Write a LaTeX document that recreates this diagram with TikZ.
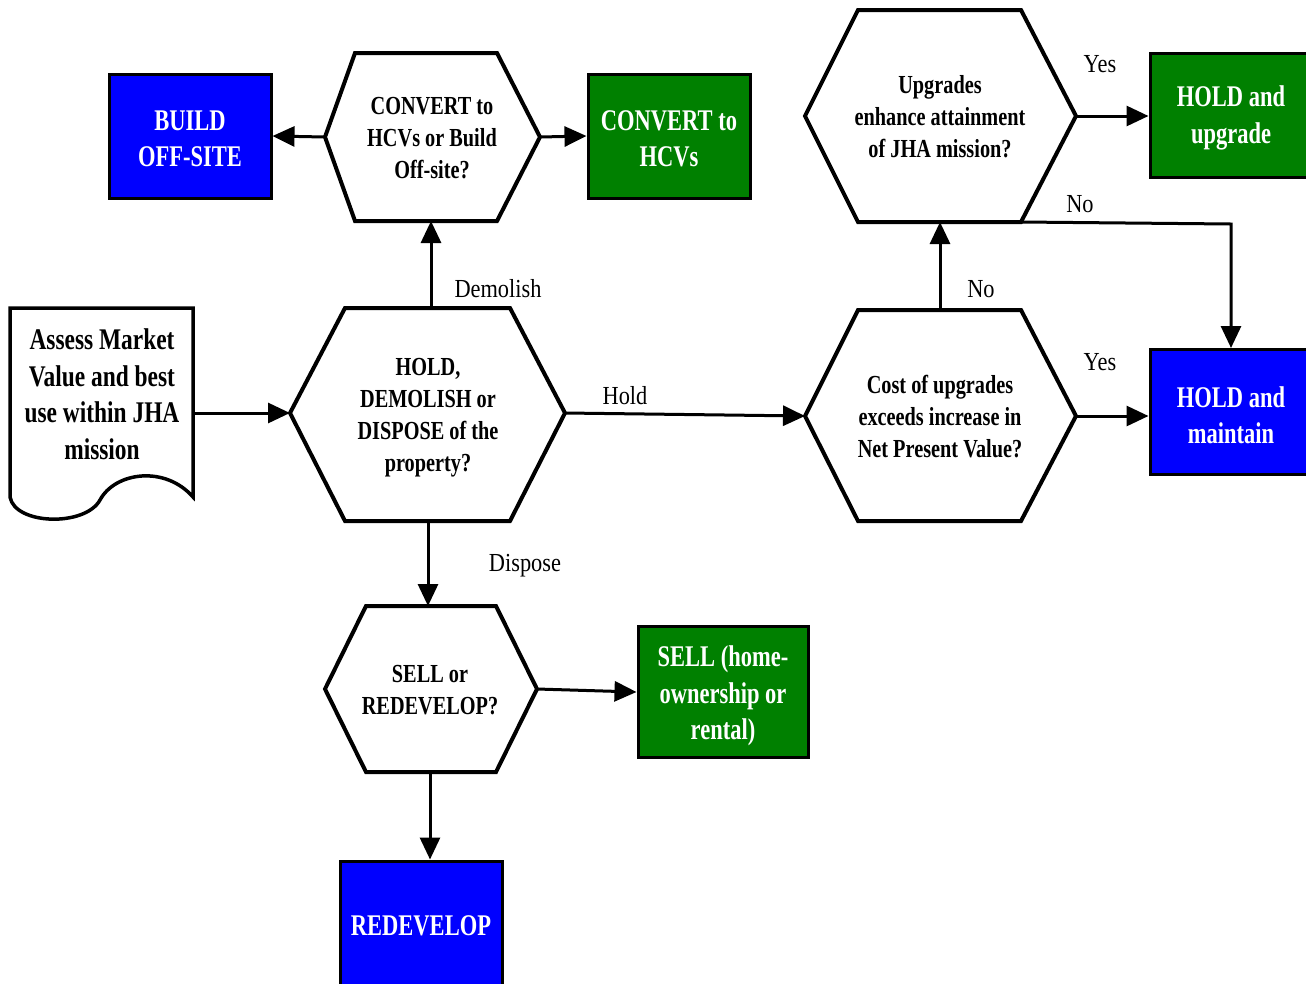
\documentclass[tikz,border=0pt]{standalone}
\usepackage{fontspec}
\setmainfont{Liberation Serif}
\newfontfamily\cb[FakeStretch=0.78]{Liberation Serif}
\newfontfamily\cbx[FakeStretch=0.75]{Liberation Serif}
\newfontfamily\cl[FakeStretch=0.86]{Liberation Serif}
\usetikzlibrary{arrows.meta}
\definecolor{boxblue}{RGB}{0,0,255}
\definecolor{boxgreen}{RGB}{0,128,0}
\tikzset{
  hexline/.style={draw=black, line width=4pt, line join=miter, fill=white},
  doc/.style={draw=black, line width=3.5pt, fill=white},
  box/.style={draw=black, line width=3pt, inner sep=0pt},
  boxtext/.style={inner sep=0pt, align=center, text=white,
    font=\cbx\bfseries\fontsize{30}{36.5}\selectfont},
  hext/.style={align=center, inner sep=0pt, font=\cb\bfseries\fontsize{26}{32}\selectfont},
  doct/.style={align=center, inner sep=0pt, font=\cb\bfseries\fontsize{30}{36.5}\selectfont},
  lab/.style={inner sep=0pt, font=\cl\fontsize{26}{30}\selectfont},
  conn/.style={draw=black, line width=3pt, -{Triangle[length=22pt,width=20pt]}},
}
\begin{document}
\begin{tikzpicture}[x=1pt,y=-1pt]
\useasboundingbox (0,0) rectangle (1306,983);
% document shape
\draw[doc] (10,308) -- (193,308) -- (193,497)
  .. controls (165,465) and (115,472) .. (100,500)
  .. controls (85,527) and (15,525) .. (10,497) -- cycle;
\node[doct] (assess) at (102,394) {Assess Market\\Value and best\\use within JHA\\mission};
\coordinate (assess-r) at (193,413);
% HOLD hexagon
\draw[hexline] (290,413) -- (345,308) -- (510,308) -- (565,413) -- (510,521) -- (345,521) -- cycle;
\node[hext] (hold) at (428,418) {HOLD,\\DEMOLISH or\\DISPOSE of the\\property?};
\coordinate (hold-l) at (290,413);
\coordinate (hold-r) at (565,413);
\coordinate (hold-t) at (431,308);
\coordinate (hold-b) at (428,521);
% CONVERT hexagon
\draw[hexline] (325,137) -- (355,53) -- (497,53) -- (540,137) -- (497,221) -- (355,221) -- cycle;
\node[hext] (conv) at (432,138) {CONVERT to\\HCVs or Build\\Off-site?};
\coordinate (conv-l) at (325,137);
\coordinate (conv-r) at (540,137);
\coordinate (conv-b) at (431,221);
% Upgrades hexagon
\draw[hexline] (805,116) -- (858,10) -- (1021,10) -- (1076,116) -- (1021,222) -- (858,222) -- cycle;
\node[hext] (upg) at (940,117) {Upgrades\\enhance attainment\\of JHA mission?};
\coordinate (upg-r) at (1076,116);
\coordinate (upg-b) at (940,222);
\coordinate (upg-br) at (1021,222);
% Cost hexagon
\draw[hexline] (805,416) -- (858,310) -- (1021,310) -- (1076,416) -- (1021,521) -- (858,521) -- cycle;
\node[hext] (cost) at (940,417) {Cost of upgrades\\exceeds increase in\\Net Present Value?};
\coordinate (cost-l) at (805,416);
\coordinate (cost-r) at (1076,416);
\coordinate (cost-t) at (940,310);
% SELL hexagon
\draw[hexline] (325,689) -- (366,606) -- (496,606) -- (537,689) -- (496,772) -- (366,772) -- cycle;
\node[hext] (sellq) at (430,690) {SELL or\\REDEVELOP?};
\coordinate (sellq-r) at (537,689);
\coordinate (sellq-t) at (428,606);
\coordinate (sellq-b) at (430,772);
% boxes
\node[box, fill=boxblue, minimum width=162pt, minimum height=124pt] (build) at (190,136) {};
\node[boxtext] (build-t) at (190,139) {BUILD\\OFF-SITE};
\node[box, fill=boxgreen, minimum width=162pt, minimum height=124pt] (hcv) at (669,136) {};
\node[boxtext] (hcv-t) at (669,139) {CONVERT to\\HCVs};
\node[box, fill=boxgreen, minimum width=162pt, minimum height=124pt] (hu) at (1231,115) {};
\node[boxtext] (hu-t) at (1231,118) {HOLD and\\upgrade};
\node[box, fill=boxblue, minimum width=162pt, minimum height=125pt] (hm) at (1231,412) {};
\node[boxtext] (hm-t) at (1231,415) {HOLD and\\maintain};
\node[box, fill=boxgreen, minimum width=170pt, minimum height=131pt] (sell) at (723,692) {};
\node[boxtext] (sell-t) at (723,696) {SELL (home-\\ownership or\\rental)};
\node[box, fill=boxblue, minimum width=162pt, minimum height=130pt] (redev) at (421,926) {};
\node[boxtext] (redev-t) at (421,926) {REDEVELOP};
% connectors
\draw[conn] (assess-r) -- (hold-l);
\draw[conn] (hold-t) -- (conv-b);
\draw[conn] (conv-l) -- (build.east);
\draw[conn] (conv-r) -- (hcv.west);
\draw[conn] (hold-b) -- (sellq-t);
\draw[conn] (hold-r) -- (cost-l);
\draw[conn] (cost-t) -- (upg-b);
\draw[conn] (cost-r) -- (cost-r -| hm.west);
\draw[conn] (upg-r) -- (upg-r -| hu.west);
\coordinate (nocorner) at (1231,224);
\draw[conn] (upg-br) -- (nocorner) -- (hm.north);
\draw[conn] (sellq-r) -- (sell.west);
\draw[conn] (sellq-b) -- (sellq-b |- redev.north);
% labels
\node[lab] (ldem) at (498,289) {Demolish};
\node[lab] (ldis) at (525,566) {Dispose};
\node[lab] (lhold) at (625,396) {Hold};
\node[lab] (lno1) at (981,289) {No};
\node[lab] (lyes1) at (1100,362) {Yes};
\node[lab] (lyes2) at (1100,64) {Yes};
\node[lab] (lno2) at (1080,204) {No};
\end{tikzpicture}
\end{document}
